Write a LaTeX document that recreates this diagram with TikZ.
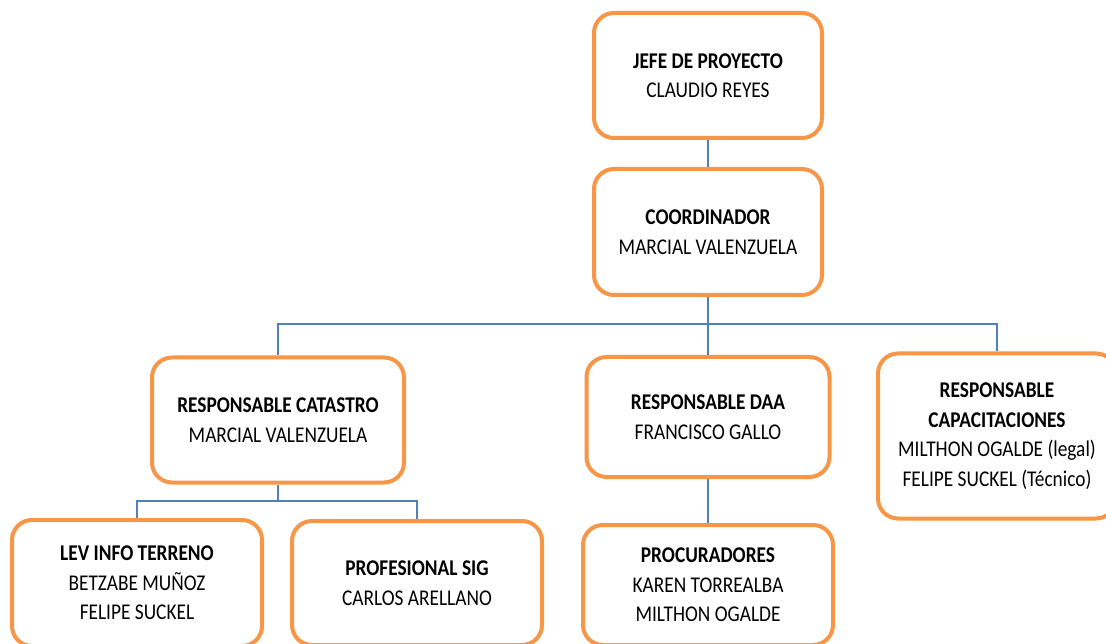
\documentclass[tikz,border=0pt]{standalone}
\usepackage{fontspec}
\setmainfont{Carlito}[FakeStretch=0.86]
\usepackage{xcolor}
\usetikzlibrary{positioning}
\definecolor{boxorange}{HTML}{F79646}
\definecolor{linkblue}{HTML}{4F81BD}

\tikzset{
  box/.style={draw=boxorange, line width=4pt, rounded corners=20pt, fill=white,
    align=center, inner sep=0pt, font=\fontsize{22.5}{29.5}\selectfont},
  link/.style={draw=linkblue, line width=1.4pt}
}

\begin{document}
\begin{tikzpicture}[x=1pt, y=-1pt]

  % -- page: same size as the reference, everything outside is cut off ------
  \clip (0,0) rectangle (1106,644);
  \fill[white] (0,0) rectangle (1106,644);

  % -- the boxes -----------------------------------------------------------
  \node[box, minimum width=228, minimum height=125] (jefe) at (708,75.5)
    {\textbf{JEFE DE PROYECTO}\\CLAUDIO REYES};
  \node[box, minimum width=228, minimum height=126] (coord) at (708,232)
    {\textbf{COORDINADOR}\\MARCIAL VALENZUELA};
  \node[box, minimum width=252, minimum height=125] (catastro) at (278,420)
    {\textbf{RESPONSABLE CATASTRO}\\MARCIAL VALENZUELA};
  \node[box, minimum width=243, minimum height=120] (daa) at (708,417)
    {\textbf{RESPONSABLE DAA}\\FRANCISCO GALLO};
  \node[box, minimum width=238, minimum height=165] (capac) at (997,436)
    {\textbf{RESPONSABLE}\\\textbf{CAPACITACIONES}\\MILTHON OGALDE (legal)\\FELIPE SUCKEL (Técnico)};
  \node[box, minimum width=250, minimum height=126] (terreno) at (137,583)
    {\textbf{LEV INFO TERRENO}\\BETZABE MUÑOZ\\FELIPE SUCKEL};
  \node[box, minimum width=250, minimum height=124] (sig) at (417,583)
    {\textbf{PROFESIONAL SIG}\\CARLOS ARELLANO};
  \node[box, minimum width=250, minimum height=120] (procur) at (708,585)
    {\textbf{PROCURADORES}\\KAREN TORREALBA\\MILTHON OGALDE};

  % -- the blue lines between them -----------------------------------------
  \coordinate (bus) at (708,324);
  \coordinate (subbus) at (278,501);
  \draw[link] (jefe.south) -- (coord.north);
  \draw[link] (coord.south) -- (bus);
  \draw[link] (bus) -| (catastro.north);
  \draw[link] (bus) -- (daa.north);
  \draw[link] (bus) -| (capac.north);
  \draw[link] (catastro.south) -- (subbus);
  \draw[link] (subbus) -| (terreno.north);
  \draw[link] (subbus) -| (sig.north);
  \draw[link] (daa.south) -- (procur.north);

\end{tikzpicture}
\end{document}
